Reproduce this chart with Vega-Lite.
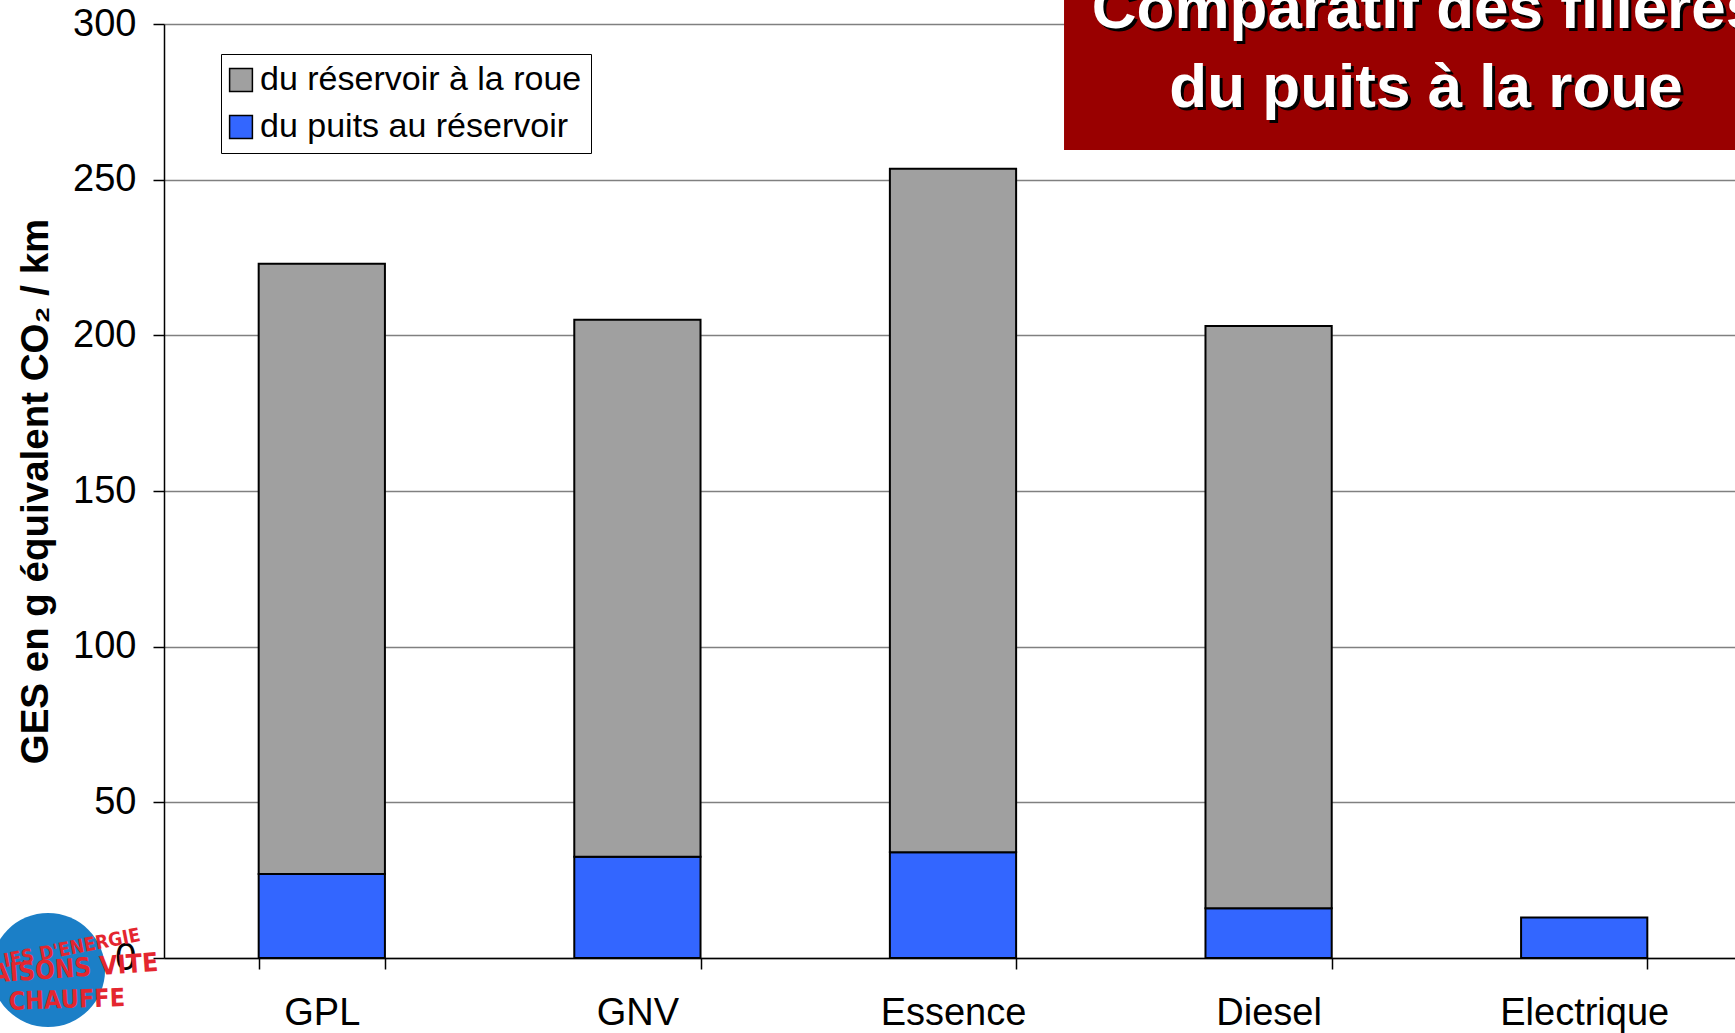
{
  "$schema": "https://vega.github.io/schema/vega-lite/v6.json",
  "width": 1571,
  "height": 934,
  "autosize": {"type": "none"},
  "padding": {"left": 164, "top": 24, "right": 0, "bottom": 75},
  "background": "white",
  "config": {"view": {"stroke": null}, "font": "Liberation Sans"},
  "datasets": {
    "ges": [
      {"filiere": "GPL", "segment": "du puits au réservoir", "ges": 27},
      {"filiere": "GPL", "segment": "du réservoir à la roue", "ges": 196},
      {"filiere": "GNV", "segment": "du puits au réservoir", "ges": 32.5},
      {"filiere": "GNV", "segment": "du réservoir à la roue", "ges": 172.5},
      {"filiere": "Essence", "segment": "du puits au réservoir", "ges": 34},
      {"filiere": "Essence", "segment": "du réservoir à la roue", "ges": 219.5},
      {"filiere": "Diesel", "segment": "du puits au réservoir", "ges": 16},
      {"filiere": "Diesel", "segment": "du réservoir à la roue", "ges": 187},
      {"filiere": "Electrique", "segment": "du puits au réservoir", "ges": 13}
    ]
  },
  "layer": [
    {
      "data": {"values": [{}]},
      "mark": {"type": "point", "shape": "circle", "filled": true, "fill": "#1b7fc7", "size": 12996, "opacity": 1, "strokeWidth": 0},
      "encoding": {
        "x": {"datum": -0.0738, "type": "quantitative", "scale": {"domain": [0, 1]}, "axis": null},
        "y": {"datum": -3.85, "type": "quantitative"}
      }
    },
    {
      "data": {"values": [{}]},
      "mark": {"type": "text", "text": "IES D'ENERGIE", "font": "DejaVu Sans Condensed", "fontWeight": "bold", "fontSize": 19, "fill": "#e4262f", "align": "right", "baseline": "middle", "angle": -11},
      "encoding": {
        "x": {"datum": -0.0153, "type": "quantitative", "scale": {"domain": [0, 1]}, "axis": null},
        "y": {"datum": 7.4, "type": "quantitative"}
      }
    },
    {
      "data": {"values": [{}]},
      "mark": {"type": "text", "text": "AISONS VITE", "font": "DejaVu Sans Condensed", "fontWeight": "bold", "fontSize": 26, "fill": "#e4262f", "align": "right", "baseline": "middle", "angle": -4},
      "encoding": {
        "x": {"datum": -0.0038, "type": "quantitative", "scale": {"domain": [0, 1]}, "axis": null},
        "y": {"datum": -1.6, "type": "quantitative"}
      }
    },
    {
      "data": {"values": [{}]},
      "mark": {"type": "text", "text": "CHAUFFE", "font": "DejaVu Sans Condensed", "fontWeight": "bold", "fontSize": 25, "fill": "#e4262f", "align": "right", "baseline": "middle", "angle": -2},
      "encoding": {
        "x": {"datum": -0.0248, "type": "quantitative", "scale": {"domain": [0, 1]}, "axis": null},
        "y": {"datum": -12.8, "type": "quantitative"}
      }
    },
    {
      "data": {"name": "ges"},
      "mark": {"type": "bar", "stroke": "black", "strokeWidth": 2, "opacity": 1},
      "encoding": {
        "x": {
          "field": "filiere",
          "type": "nominal",
          "sort": ["GPL", "GNV", "Essence", "Diesel", "Electrique"],
          "scale": {"range": [0, 1578], "paddingInner": 0.6, "paddingOuter": 0.3},
          "axis": {
            "title": null,
            "labelAngle": 0,
            "labelFont": "Liberation Sans",
            "labelFontSize": 38,
            "labelColor": "black",
            "labelPadding": 25,
            "tickSize": 11,
            "tickBand": "extent",
            "tickColor": "black",
            "tickWidth": 1.5,
            "domainColor": "black",
            "domainWidth": 1.5,
            "grid": false
          }
        },
        "y": {
          "field": "ges",
          "type": "quantitative",
          "stack": "zero",
          "scale": {"domain": [0, 300], "nice": false},
          "axis": {
            "title": "GES en g équivalent CO₂ / km",
            "titleFont": "Liberation Sans",
            "titleFontSize": 38.5,
            "titleFontWeight": "bold",
            "titleColor": "black",
            "titlePadding": 17,
            "values": [0, 50, 100, 150, 200, 250, 300],
            "labelFont": "Liberation Sans",
            "labelFontSize": 38,
            "labelColor": "black",
            "labelPadding": 17,
            "tickSize": 11,
            "tickColor": "black",
            "tickWidth": 1.5,
            "domainColor": "black",
            "domainWidth": 1.5,
            "grid": true,
            "gridColor": "#808080",
            "gridWidth": 1.5
          }
        },
        "color": {
          "field": "segment",
          "type": "nominal",
          "scale": {
            "domain": ["du réservoir à la roue", "du puits au réservoir"],
            "range": ["#a0a0a0", "#3366ff"]
          },
          "legend": {
            "title": null,
            "orient": "none",
            "legendX": 57,
            "legendY": 30,
            "direction": "vertical",
            "fillColor": "white",
            "strokeColor": "black",
            "padding": 9,
            "labelFont": "Liberation Sans",
            "labelFontSize": 34,
            "labelColor": "black",
            "labelLimit": 500,
            "labelOffset": 2,
            "symbolType": "square",
            "symbolSize": 520,
            "symbolOffset": -6,
            "symbolStrokeColor": "black",
            "symbolStrokeWidth": 1.5,
            "symbolOpacity": 1,
            "rowPadding": 13
          }
        },
        "order": {"field": "segment", "sort": "ascending"}
      }
    },
    {
      "data": {"values": [{}]},
      "mark": {"type": "rect", "fill": "#990000", "clip": false},
      "encoding": {
        "x": {"datum": 0.5729, "type": "quantitative", "scale": {"domain": [0, 1]}, "axis": null},
        "x2": {"datum": 1.05},
        "y": {"datum": 259.5, "type": "quantitative"},
        "y2": {"datum": 320}
      }
    },
    {
      "data": {"values": [{}]},
      "mark": {"type": "text", "text": "Comparatif des filières", "font": "Liberation Sans", "fontWeight": "bold", "fontSize": 62, "fill": "black", "align": "center", "baseline": "alphabetic", "dx": 3, "dy": 3},
      "encoding": {
        "x": {"datum": 0.8033, "type": "quantitative", "scale": {"domain": [0, 1]}, "axis": null},
        "y": {"datum": 298.7, "type": "quantitative"}
      }
    },
    {
      "data": {"values": [{}]},
      "mark": {"type": "text", "text": "du puits à la roue", "font": "Liberation Sans", "fontWeight": "bold", "fontSize": 62, "fill": "black", "align": "center", "baseline": "alphabetic", "dx": 3, "dy": 3},
      "encoding": {
        "x": {"datum": 0.8033, "type": "quantitative", "scale": {"domain": [0, 1]}, "axis": null},
        "y": {"datum": 273.4, "type": "quantitative"}
      }
    },
    {
      "data": {"values": [{}]},
      "mark": {"type": "text", "text": "Comparatif des filières", "font": "Liberation Sans", "fontWeight": "bold", "fontSize": 62, "fill": "white", "align": "center", "baseline": "alphabetic"},
      "encoding": {
        "x": {"datum": 0.8033, "type": "quantitative", "scale": {"domain": [0, 1]}, "axis": null},
        "y": {"datum": 298.7, "type": "quantitative"}
      }
    },
    {
      "data": {"values": [{}]},
      "mark": {"type": "text", "text": "du puits à la roue", "font": "Liberation Sans", "fontWeight": "bold", "fontSize": 62, "fill": "white", "align": "center", "baseline": "alphabetic"},
      "encoding": {
        "x": {"datum": 0.8033, "type": "quantitative", "scale": {"domain": [0, 1]}, "axis": null},
        "y": {"datum": 273.4, "type": "quantitative"}
      }
    }
  ],
  "resolve": {"scale": {"x": "independent"}}
}
